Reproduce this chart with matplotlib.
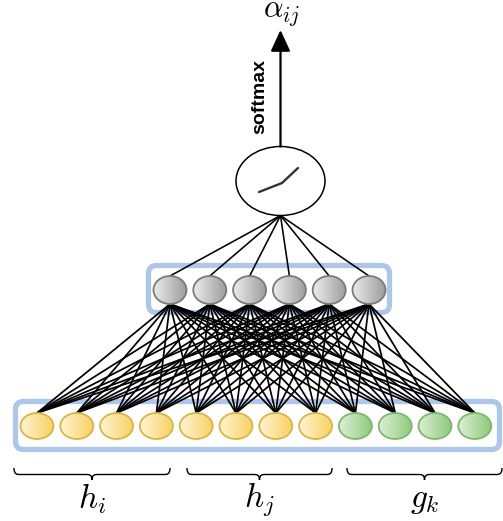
import numpy as np
import matplotlib.pyplot as plt
from matplotlib.patches import Ellipse, FancyBboxPatch, PathPatch
from matplotlib.path import Path
from matplotlib.colors import LinearSegmentedColormap

plt.rcParams['mathtext.fontset'] = 'cm'

# structure of the network
group_labels = [r'$h_i$', r'$h_j$', r'$g_k$']
group_sizes = [4, 4, 4]
group_colors = [('#fff4d4', '#f9d263', '#d9b449'),   # left, right, edge
                ('#fff4d4', '#f9d263', '#d9b449'),
                ('#dcefd6', '#8fcb7c', '#7db86c')]
n_hidden = 6
hidden_color = ('#ececec', '#9e9e9e', '#7a7a7a')
out_label = r'$\alpha_{ij}$'
arrow_label = 'softmax'
brace_spans = [(14, 170), (187, 332), (347, 502)]

fig = plt.figure(figsize=(5.03, 5.21), dpi=100)
ax = fig.add_axes([0, 0, 1, 1])
ax.set_xlim(0, 503)
ax.set_ylim(521, 0)
ax.axis('off')

BLUE = '#aec6ea'


def node(x, y, w, h, cl, cr, ec):
    cmap = LinearSegmentedColormap.from_list('g', [cl, cr])
    grad = np.linspace(0, 1, 64).reshape(1, -1)
    im = ax.imshow(grad, cmap=cmap, extent=(x - w / 2, x + w / 2, y + h / 2, y - h / 2),
                   aspect='auto', zorder=4, interpolation='bilinear')
    el = Ellipse((x, y), w, h, facecolor='none', edgecolor=ec, lw=1.3, zorder=5)
    ax.add_patch(el)
    im.set_clip_path(el)


def brace(x0, x1, y0=468, ym=474.5, yc=480):
    xm = (x0 + x1) / 2
    r = 6
    verts = [(x0, y0), (x0, ym), (x0 + r / 2, ym), (x0 + r, ym),
             (xm - r, ym), (xm - r / 2, ym), (xm, ym), (xm, yc),
             (xm, ym), (xm + r / 2, ym), (xm + r, ym),
             (x1 - r, ym), (x1 - r / 2, ym), (x1, ym), (x1, y0)]
    codes = [Path.MOVETO, Path.CURVE4, Path.CURVE4, Path.CURVE4,
             Path.LINETO, Path.CURVE4, Path.CURVE4, Path.CURVE4,
             Path.CURVE4, Path.CURVE4, Path.CURVE4,
             Path.LINETO, Path.CURVE4, Path.CURVE4, Path.CURVE4]
    ax.add_patch(PathPatch(Path(verts, codes), facecolor='none', edgecolor='black', lw=1.0))


# layout
step = 39.8
n_in = sum(group_sizes)
x_in = 37 + step * np.arange(n_in)
y_in = 426
x_hid = 170 + step * np.arange(n_hidden)
y_hid = 290
cx, cy = 280.5, 181

# boxes
ax.add_patch(FancyBboxPatch((15.5, 401.5), 484, 48, boxstyle='round,pad=0,rounding_size=8',
                            facecolor='white', edgecolor=BLUE, lw=3.8, zorder=1))
ax.add_patch(FancyBboxPatch((148.5, 265.5), 241, 47, boxstyle='round,pad=0,rounding_size=8',
                            facecolor='white', edgecolor=BLUE, lw=3.8, zorder=1))

# connections
for xi in x_in:
    for xh in x_hid:
        ax.plot([xi, xh], [y_in - 13, y_hid + 14], color='black', lw=1.25, zorder=2,
                solid_capstyle='round')
for xh in x_hid:
    ax.plot([xh, cx], [y_hid - 14, cy + 34.5], color='black', lw=1.15, zorder=2)

# nodes
k = 0
for size, (cl, cr, ec) in zip(group_sizes, group_colors):
    for _ in range(size):
        node(x_in[k], y_in, 33, 26, cl, cr, ec)
        k += 1
for xh in x_hid:
    node(xh, y_hid, 33, 28, *hidden_color)

# scoring unit
ax.add_patch(Ellipse((cx, cy), 89, 69, facecolor='white', edgecolor='black', lw=1.1, zorder=3))
ax.plot([cx - 21.5, cx + 1.5, cx + 17.5], [cy + 11, cy + 2, cy - 13], color='#333333', lw=1.7,
        zorder=4, solid_capstyle='round')

# output arrow
ax.annotate('', xy=(cx, 30), xytext=(cx, cy - 34.5),
            arrowprops=dict(arrowstyle='-|>,head_length=0.65,head_width=0.3', color='black',
                            lw=1.6, mutation_scale=20, shrinkA=0, shrinkB=0))
ax.text(260, 96, arrow_label, rotation=90, ha='center', va='center', fontsize=14,
        fontweight='bold', family='Liberation Sans')
ax.text(282, 13, out_label, ha='center', va='center', fontsize=22)

# braces and labels
for (x0, x1), lab in zip(brace_spans, group_labels):
    brace(x0, x1)
    ax.text((x0 + x1) / 2, 499, lab, ha='center', va='center', fontsize=24)

fig.savefig('out.png', dpi=100)
